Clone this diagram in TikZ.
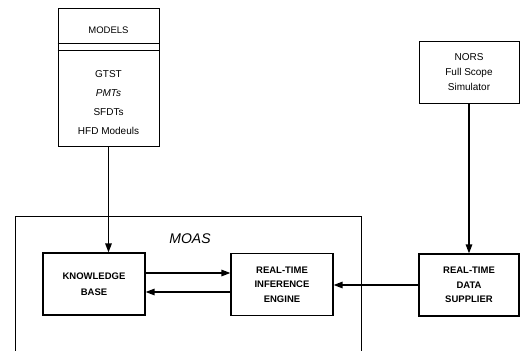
\documentclass[tikz,border=0pt]{standalone}
\usepackage{fontspec}
\setmainfont{Liberation Sans}
\usepackage{tikz}
\usetikzlibrary{arrows.meta,positioning}

\begin{document}
\begin{tikzpicture}[
  x=1pt,y=-1pt,
  box/.style={draw,line width=1pt,inner sep=0pt,align=center,
    font=\fontsize{9}{14}\selectfont},
  blk/.style={draw,line width=1.2pt,inner sep=0pt,align=center,
    minimum width=102pt,minimum height=62pt,
    font=\fontsize{9.5}{14.5}\selectfont\bfseries},
  a/.style={-{Triangle[length=9pt,width=6.5pt]},line width=1.4pt}
]
  \useasboundingbox (0,0) rectangle (520,351);
  % MOAS frame, open at the bottom
  \draw[line width=0.6pt] (15,351) -- (15,216) -- (361,216) -- (361,351);
  \node[font=\fontsize{14}{16}\selectfont\itshape] (moas) at (190,239) {MOAS};
  % models
  \node[box,minimum width=101pt,minimum height=138pt] (models) at (108.5,77) {};
  \node[font=\fontsize{9.5}{11}\selectfont] (mtitle) at (108.5,30) {MODELS};
  \draw[line width=0.8pt] (models.west |- 0,43) -- (models.east |- 0,43);
  \draw[line width=0.8pt] (models.west |- 0,50) -- (models.east |- 0,50);
  \node[align=center,font=\fontsize{10}{19}\selectfont] (mlist) at (108.5,103)
    {GTST\\\textit{PMTs}\\SFDTs\\HFD Modeuls};
  % simulator
  \node[box,minimum width=100pt,minimum height=62pt,
    font=\fontsize{10}{15}\selectfont] (nors) at (469,72)
    {NORS\\Full Scope\\Simulator};
  % MOAS blocks
  \node[blk,font=\fontsize{9.5}{16}\selectfont\bfseries] (kb) at (94,284)
    {KNOWLEDGE\\BASE};
  \node[blk] (eng) at (282,284.5) {REAL-TIME\\INFERENCE\\ENGINE};
  \node[blk,minimum width=100pt] (rtds) at (469,285) {REAL-TIME\\DATA\\SUPPLIER};
  % connectors
  \draw[a] (models.south) -- (kb.north -| models.south);
  \draw[a] (nors.south) -- (rtds.north);
  \draw[a] (kb.east |- 0,273) -- (eng.west |- 0,273);
  \draw[a] (eng.west |- 0,292) -- (kb.east |- 0,292);
  \draw[a] (rtds.west) -- (eng.east |- rtds.west);
\end{tikzpicture}
\end{document}
